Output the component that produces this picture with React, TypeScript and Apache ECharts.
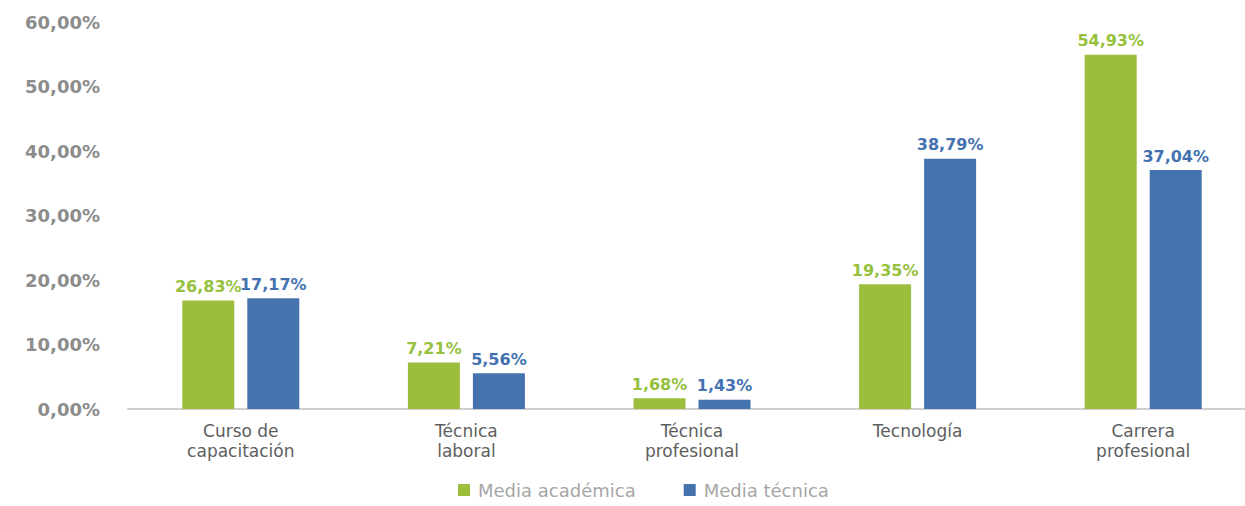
import React, { useEffect, useRef } from "react";
import * as echarts from "echarts";

const categories = ["Curso de\ncapacitación", "Técnica\nlaboral", "Técnica\nprofesional", "Tecnología", "Carrera\nprofesional"];
const seriesNames = ["Media académica", "Media técnica"];
const academicValues = [16.83, 7.21, 1.68, 19.35, 54.93];
const academicLabels = ["26,83%", "7,21%", "1,68%", "19,35%", "54,93%"];
const technicalValues = [17.17, 5.56, 1.43, 38.79, 37.04];
const technicalLabels = ["17,17%", "5,56%", "1,43%", "38,79%", "37,04%"];
const yTicks = [0, 10, 20, 30, 40, 50, 60];

const GREEN = "#9bbe3c";
const BLUE = "#4473ae";
const FONT = "DejaVu Sans";

export default function App() {
  const ref = useRef<HTMLDivElement>(null);
  useEffect(() => {
    if (!ref.current) return;
    const chart = echarts.init(ref.current, null, { renderer: "svg" });
    chart.setOption({
      animation: false,
      backgroundColor: "#ffffff",
      grid: { left: 128, right: 0, top: 22, bottom: 97, containLabel: false },
      legend: {
        data: seriesNames,
        left: 456,
        top: 478,
        padding: 2,
        itemWidth: 12,
        itemHeight: 12,
        itemGap: 48,
        icon: "rect",
        textStyle: { color: "#a6a6a6", fontSize: 18, lineHeight: 20, fontFamily: FONT, padding: [0, 0, 0, 3] },
      },
      xAxis: {
        type: "category",
        data: categories,
        axisLine: { lineStyle: { color: "#cfcfcf", width: 2 } },
        axisTick: { show: false },
        axisLabel: { color: "#5e5e5e", fontSize: 17, fontFamily: FONT, lineHeight: 20, margin: 12 },
      },
      yAxis: {
        type: "value",
        min: yTicks[0],
        max: yTicks[yTicks.length - 1],
        interval: 10,
        splitLine: { show: false },
        axisLine: { show: false },
        axisTick: { show: false },
        axisLabel: {
          color: "#8c8c8c",
          fontSize: 18,
          fontWeight: "bold",
          fontFamily: FONT,
          margin: 28,
          formatter: (v: number) => v.toFixed(2).replace(".", ",") + "%",
        },
      },
      series: [
        {
          name: seriesNames[0],
          type: "bar",
          data: academicValues,
          barWidth: 52,
          barGap: "25%",
          itemStyle: { color: GREEN },
          label: {
            show: true,
            position: "top",
            distance: 6,
            color: "#95c13d",
            fontSize: 16,
            fontWeight: "bold",
            fontFamily: FONT,
            formatter: (p: any) => academicLabels[p.dataIndex],
          },
        },
        {
          name: seriesNames[1],
          type: "bar",
          data: technicalValues,
          barWidth: 52,
          barGap: "25%",
          itemStyle: { color: BLUE },
          label: {
            show: true,
            position: "top",
            distance: 6,
            color: "#4472b0",
            fontSize: 16,
            fontWeight: "bold",
            fontFamily: FONT,
            formatter: (p: any) => technicalLabels[p.dataIndex],
          },
        },
      ],
    });
    return () => chart.dispose();
  }, []);
  return (
    <div style={{ position: "fixed", left: 0, top: 0, width: 1245, height: 506, overflow: "hidden", background: "#fff" }}>
      <div ref={ref} style={{ width: 1256, height: 506 }} />
    </div>
  );
}
